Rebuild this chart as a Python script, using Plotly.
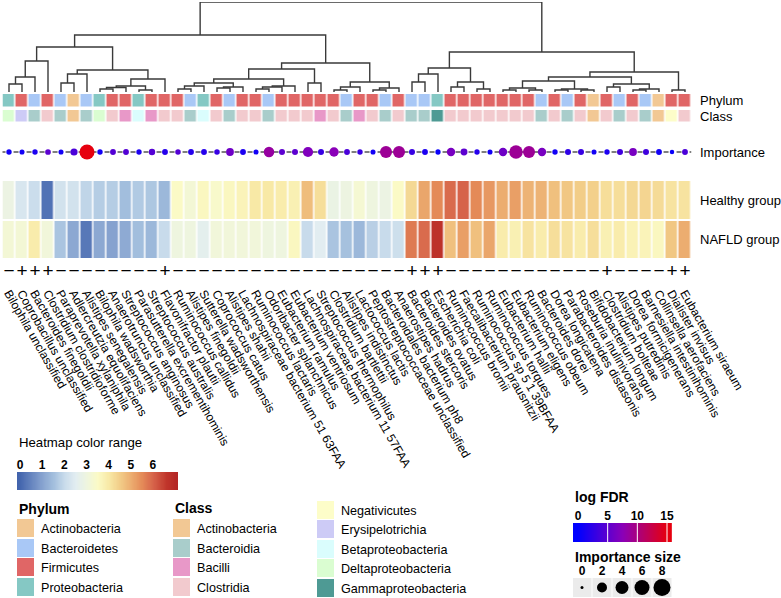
import plotly.graph_objects as go
import numpy as np

W, H = 781, 598
FONT = "Arial, Liberation Sans, Helvetica, sans-serif"

# ---------------- data ----------------
species = [
    "Bilophila unclassified", "Coprobacillus unclassified", "Bacteroides finegoldii",
    "Clostridium clostridioforme", "Paraprevotella xylaniphila", "Adlercreutzia equolifaciens",
    "Alistipes senegalensis", "Bilophila wadsworthia", "Anaerotruncus unclassified",
    "Streptococcus anginosus", "Parasutterella excrementihominis", "Streptococcus australis",
    "Flavonifractor plautii", "Ruminococcus callidus", "Alistipes finegoldii",
    "Sutterella wadsworthensis", "Coprococcus catus", "Alistipes shahii",
    "Lachnospiraceae bacterium 51 63FAA", "Ruminococcus lactaris", "Odoribacter splanchnicus",
    "Eubacterium ramulus", "Eubacterium ventriosum", "Lachnospiraceae bacterium 11 57FAA",
    "Streptococcus thermophilus", "Clostridium bartlettii", "Alistipes indistinctus",
    "Lactococcus lactis", "Peptostreptococcaceae unclassified", "Bacteroidales bacterium ph8",
    "Anaerostipes hadrus", "Bacteroides stercoris", "Bacteroides ovatus", "Escherichia coli",
    "Ruminococcus bromii", "Faecalibacterium prausnitzii", "Ruminococcus sp 5 1 39BFAA",
    "Ruminococcus torques", "Eubacterium hallii", "Eubacterium eligens", "Ruminococcus obeum",
    "Bacteroides dorei", "Dorea longicatena", "Parabacteroides distasonis",
    "Roseburia inulinivorans", "Bifidobacterium longum", "Clostridium bolteae",
    "Alistipes putredinis", "Dorea formicigenerans", "Barnesiella intestinihominis",
    "Collinsella aerofaciens", "Dialister invisus", "Eubacterium siraeum",
]

A, B, F, P = "Actinobacteria", "Bacteroidetes", "Firmicutes", "Proteobacteria"
phylum = [P, F, B, F, B, A, B, P, F, F,
          P, F, F, F, B, P, F, B, F, F,
          B, F, F, F, F, F, B, F, F, B,
          F, B, B, P, F, F, F, F, F, F,
          F, B, F, B, F, A, F, B, F, B,
          A, F, F]

cA, cBd, cBc, cCl, cNe, cEr, cBe, cDe, cGa = (
    "Actinobacteria", "Bacteroidia", "Bacilli", "Clostridia", "Negativicutes",
    "Erysipelotrichia", "Betaproteobacteria", "Deltaproteobacteria", "Gammaproteobacteria")
klass = [cDe, cEr, cBd, cCl, cBd, cA, cBd, cDe, cCl, cBc,
         cBe, cBc, cCl, cCl, cBd, cBe, cCl, cBd, cCl, cCl,
         cBd, cCl, cCl, cCl, cBc, cCl, cBd, cBc, cCl, cBd,
         cCl, cBd, cBd, cGa, cCl, cCl, cCl, cCl, cCl, cCl,
         cCl, cBd, cCl, cBd, cCl, cA, cCl, cBd, cCl, cBd,
         cA, cNe, cCl]

healthy = [2.9, 2.3, 2.05, 0.2, 2.2, 2.2, 1.9, 1.75, 1.75, 1.5,
           1.7, 1.65, 1.4, 3.5, 3.2, 3.6, 3.4, 3.6, 3.7, 4.0,
           4.0, 3.9, 3.8, 4.75, 4.2, 2.85, 2.95, 3.25, 3.0, 2.9,
           3.5, 4.3, 5.1, 5.5, 5.9, 6.0, 5.5, 5.3, 5.0, 5.2,
           4.9, 4.9, 4.7, 4.6, 4.5, 4.45, 4.2, 4.2, 4.3, 4.35,
           4.25, 4.1, 4.1]
nafld = [3.2, 3.2, 3.9, 3.1, 1.6, 1.1, 0.3, 1.1, 1.0, 1.15,
         1.5, 1.4, 2.0, 3.0, 3.0, 2.6, 3.1, 3.1, 3.1, 3.1,
         3.0, 3.0, 3.6, 2.0, 2.5, 1.6, 1.55, 1.4, 1.8, 2.0,
         2.1, 5.7, 5.9, 6.7, 4.7, 5.2, 4.7, 5.1, 3.9, 3.8,
         4.1, 3.9, 4.2, 4.1, 3.9, 4.2, 3.8, 3.9, 3.75, 3.7,
         3.6, 4.6, 5.0]

log_fdr = [1.0, 1.0, 1.5, 5.0, 1.0, 4.0, 15.0, 1.0, 4.5, 4.5,
           1.5, 4.5, 2.0, 4.5, 2.0, 2.0, 3.0, 6.0, 1.5, 1.0,
           8.5, 5.0, 5.0, 7.0, 3.0, 7.5, 4.0, 3.0, 1.0, 9.0,
           9.0, 3.0, 1.5, 0.5, 6.5, 5.0, 2.0, 1.0, 6.0, 9.0,
           9.0, 6.5, 1.0, 2.5, 3.0, 1.0, 1.5, 3.5, 6.5, 3.5,
           1.0, 0.5, 4.0]
importance = [1.6, 1.4, 1.6, 1.8, 1.4, 2.8, 8.0, 1.6, 1.9, 1.9,
              1.6, 2.3, 1.9, 1.7, 1.9, 1.9, 1.7, 3.2, 1.9, 1.4,
              5.0, 2.0, 2.0, 4.8, 2.0, 4.3, 1.9, 1.6, 1.4, 6.0,
              6.0, 2.0, 1.9, 1.5, 3.6, 2.6, 1.6, 1.4, 3.6, 7.0,
              6.0, 3.6, 1.6, 2.0, 2.0, 1.4, 1.6, 2.0, 3.2, 2.0,
              1.9, 1.0, 1.9]

direction = ["−", "+", "+", "+", "−", "−", "−", "−", "−", "−",
             "−", "−", "+", "−", "−", "−", "−", "−", "−", "−",
             "−", "−", "−", "−", "−", "−", "−", "−", "−", "−",
             "−", "+", "+", "+", "−", "−", "−", "−", "−", "−",
             "−", "−", "−", "−", "−", "−", "+", "−", "−", "−",
             "−", "+", "+"]

# hierarchical clustering tree: [left, right, merge height]; leaves = column numbers
tree = [
    [
        [
            [[[1, 2, 0.8], 3, 1.5], 4, 3.1],
            [[[5, 6, 0.9], 7, 1.8],
             [[[[8, 9, 0.3], 10, 0.45], [11, 12, 0.2], 0.6], 13, 1.3], 2.2],
            4.5],
        [
            [[[[[14, 15, 0.3], 16, 0.6], [[17, 18, 0.4], 19, 0.5], 0.9],
              [[[20, 21, 0.3], 22, 0.5], 23, 0.6], 1.3],
             [24, 25, 0.9], 2.3],
            [[[26, 27, 0.2], 28, 0.5], [[29, 30, 0.2], 31, 0.4], 1.0],
            2.9],
        5.7],
    [
        [[[32, 33, 1.0], 34, 1.8], [[35, 36, 0.5], [37, 38, 0.3], 1.0], 2.4],
        [[[[[39, 40, 0.2], [41, 42, 0.2], 0.4], [[43, 44, 0.2], [45, 46, 0.2], 0.3], 1.1],
          [[47, 48, 0.5], [[49, 50, 0.2], 51, 0.3], 0.8], 1.5],
         [52, 53, 0.2], 2.0],
        4.0],
    9.0]

phylum_names = [A, B, F, P]
phylum_colors = ["#f2c894", "#a9c8f6", "#e06666", "#85c8c4"]
class_names = [cA, cBd, cBc, cCl, cNe, cEr, cBe, cDe, cGa]
class_colors = ["#f2c894", "#a9cdcb", "#e898c8", "#f2cace", "#fdfdc9",
                "#cdcbf6", "#dafdfd", "#dafdd1", "#4e9a94"]

heat_ticks = [0, 1, 2, 3, 4, 5, 6]
fdr_ticks = [0, 5, 10, 15]
size_ticks = [0, 2, 4, 6, 8]
size_legend_px = [3, 10, 13, 15, 17]

# ---------------- helpers ----------------
def ydom(top, bottom):
    return [1 - bottom / H, 1 - top / H]

def xdom(left, right):
    return [left / W, right / W]

def px(x):
    return x / W

def py(y):
    return 1 - y / H

ZMIN, ZMAX = -0.135, 7.13
heat_stops = [(ZMIN, "#4262ab"), (0.0, "#4466ae"), (1.0, "#86a2cf"), (1.5, "#a2bedd"),
              (2.0, "#c8dbeb"), (2.5, "#e2edf1"), (3.0, "#eef5df"), (3.5, "#fbfac6"),
              (4.0, "#f8e9a6"), (4.5, "#f2cd88"), (5.0, "#ecad70"), (5.5, "#e48a58"),
              (6.0, "#d6634a"), (6.6, "#c0352b"), (ZMAX, "#b22424")]
heat_scale = [[(v - ZMIN) / (ZMAX - ZMIN), c] for v, c in heat_stops]
fdr_scale = [[0, "#0000ff"], [0.5, "#8a00b8"], [1, "#e6000f"]]

cols = list(range(1, len(species) + 1))

fig = go.Figure()

# dendrogram
xs, ys = [], []

def walk(node):
    if isinstance(node, int):
        return float(node), 0.0
    left, right, h = node
    xl, hl = walk(left)
    xr, hr = walk(right)
    xs.extend([xl, xl, xr, xr, None])
    ys.extend([hl, h, h, hr, None])
    return (xl + xr) / 2, h

walk(tree)
fig.add_trace(go.Scatter(x=xs, y=ys, mode="lines", line=dict(color="#3a3a3a", width=1.4),
                         xaxis="x", yaxis="y", hoverinfo="skip", showlegend=False))

# phylum / class annotation rows (one categorical heatmap)
cat_colors = phylum_colors + class_colors
n = len(cat_colors)
cat_scale = []
for i, c in enumerate(cat_colors):
    cat_scale += [[i / n, c], [(i + 1) / n, c]]
z_annot = [[len(phylum_names) + class_names.index(k) for k in klass],
           [phylum_names.index(p) for p in phylum]]
fig.add_trace(go.Heatmap(x=cols, y=[0, 1], z=z_annot, colorscale=cat_scale,
                         zmin=-0.5, zmax=n - 0.5, showscale=False, xgap=1.5, ygap=3.5,
                         xaxis="x", yaxis="y2", hoverinfo="skip"))

# importance row
fig.add_trace(go.Scatter(x=[0.35, 53.5], y=[0.5, 0.5], mode="lines",
                         line=dict(color="black", width=1.1, dash="5px,8px"),
                         xaxis="x", yaxis="y3", hoverinfo="skip", showlegend=False))
fig.add_trace(go.Scatter(x=cols, y=[0.5] * len(cols), mode="markers",
                         marker=dict(size=[3 + 1.5 * v for v in importance], color=log_fdr,
                                     colorscale=fdr_scale, cmin=0, cmax=15,
                                     line=dict(width=0), opacity=1),
                         xaxis="x", yaxis="y3", hoverinfo="skip", showlegend=False))

# main heatmap
fig.add_trace(go.Heatmap(x=cols, y=[0, 1], z=[nafld, healthy], colorscale=heat_scale,
                         zmin=ZMIN, zmax=ZMAX, showscale=False, xgap=1.5, ygap=2,
                         xaxis="x", yaxis="y4", hoverinfo="skip"))

# direction signs
fig.add_trace(go.Scatter(x=cols, y=[0.5] * len(cols), mode="text", text=direction,
                         textfont=dict(size=19, color="#000000", family=FONT),
                         xaxis="x", yaxis="y5", hoverinfo="skip", showlegend=False))

# heatmap color range legend bar
hv = np.linspace(ZMIN, ZMAX, 300)
fig.add_trace(go.Heatmap(x=hv, y=[0], z=[hv], colorscale=heat_scale, zmin=ZMIN, zmax=ZMAX,
                         showscale=False, xaxis="x2", yaxis="y6", hoverinfo="skip"))

# log FDR legend bar
FMIN, FMAX = -0.84, 15.84
fv = np.linspace(FMIN, FMAX, 300)
fig.add_trace(go.Heatmap(x=fv, y=[0], z=[fv], colorscale=fdr_scale, zmin=0, zmax=15,
                         showscale=False, xaxis="x3", yaxis="y7", hoverinfo="skip"))

# importance size legend
fig.add_trace(go.Scatter(x=size_ticks, y=[0.5] * len(size_ticks), mode="markers",
                         marker=dict(symbol="square", size=19, color="#ebebeb", line=dict(width=0)),
                         xaxis="x4", yaxis="y8", hoverinfo="skip", showlegend=False))
fig.add_trace(go.Scatter(x=size_ticks, y=[0.5] * len(size_ticks), mode="markers",
                         marker=dict(size=size_legend_px, color="#000000", opacity=1,
                                     line=dict(width=0)),
                         xaxis="x4", yaxis="y8", hoverinfo="skip", showlegend=False))

hidden = dict(visible=False, fixedrange=True, automargin=False)
legend_x = dict(ticks="", showgrid=False, zeroline=False, showline=False, side="top",
                tickmode="array", automargin=False, fixedrange=True,
                tickfont=dict(size=12, color="black", weight="bold"))
fig.update_layout(
    template="none",
    width=W, height=H, margin=dict(l=0, r=0, t=0, b=0, pad=0, autoexpand=False),
    paper_bgcolor="white", plot_bgcolor="rgba(0,0,0,0)",
    font=dict(family=FONT, color="black"),
    showlegend=False,
    xaxis=dict(domain=xdom(2.5, 691.5), range=[0.5, 53.5], anchor="y5",
               tickmode="array", tickvals=cols, ticktext=species, tickangle=60,
               tickfont=dict(size=12, color="black"), ticks="", showgrid=False,
               zeroline=False, showline=False, automargin=False, fixedrange=True),
    yaxis=dict(domain=ydom(2, 92), range=[0, 9], anchor="x", **hidden),
    yaxis2=dict(domain=ydom(93, 124), range=[-0.5, 1.5], anchor="x", **hidden),
    yaxis3=dict(domain=ydom(140, 164), range=[0, 1], anchor="x", **hidden),
    yaxis4=dict(domain=ydom(180, 259), range=[-0.5, 1.5], anchor="x", **hidden),
    yaxis5=dict(domain=ydom(262, 283), range=[0, 1], anchor="x", **hidden),
    xaxis2=dict(domain=xdom(17, 178), range=[ZMIN, ZMAX], anchor="y6",
                tickvals=heat_ticks, **legend_x),
    yaxis6=dict(domain=ydom(472, 490), range=[-0.5, 0.5], anchor="x2", **hidden),
    xaxis3=dict(domain=xdom(573, 672), range=[FMIN, FMAX], anchor="y7",
                tickvals=fdr_ticks, **legend_x),
    yaxis7=dict(domain=ydom(523, 542), range=[-0.5, 0.5], anchor="x3", **hidden),
    xaxis4=dict(domain=xdom(573, 672), range=[-0.9, 9.0], anchor="y8",
                tickvals=size_ticks, **legend_x),
    yaxis8=dict(domain=ydom(578, 597), range=[0, 1], anchor="x4", **hidden),
)

shapes = []
annotations = []

def label(x, y, text, size=13, bold=False, anchor="left"):
    annotations.append(dict(x=px(x), y=py(y), xref="paper", yref="paper", text=text,
                            showarrow=False, xanchor=anchor, yanchor="middle",
                            font=dict(size=size, color="black", family=FONT,
                                      weight="bold" if bold else "normal")))

# row labels on the right
label(698, 100, "Phylum")
label(698, 117, "Class")
label(698, 152, "Importance")
label(698, 200, "Healthy group")
label(698, 239, "NAFLD group")

# white tick marks in the log FDR bar
for v in fdr_ticks[1:]:
    shapes.append(dict(type="line", xref="x3", yref="y7 domain", x0=v, x1=v, y0=0, y1=1,
                       line=dict(color="white", width=1)))

# legend titles
label(17, 443, "Heatmap color range", size=13.2)
label(17, 509, "Phylum", size=14, bold=True)
label(173, 508, "Class", size=14, bold=True)
label(573, 497, "log FDR", size=14, bold=True)
label(573, 557, "Importance size", size=14, bold=True)

def swatch(x, top, color, text):
    shapes.append(dict(type="rect", xref="paper", yref="paper",
                       x0=px(x), x1=px(x + 17), y0=py(top + 18), y1=py(top),
                       fillcolor=color, line=dict(width=0)))
    label(x + 22, top + 9.5, text, size=12.6)

rows4 = [519, 539, 558, 578]
for i, (nm, c) in enumerate(zip(phylum_names, phylum_colors)):
    swatch(17, rows4[i], c, nm)
for i in range(4):
    swatch(173, rows4[i], class_colors[i], class_names[i])
rows5 = [501, 520, 540, 559, 579]
for i in range(5):
    swatch(317, rows5[i], class_colors[4 + i], class_names[4 + i])

fig.update_layout(shapes=shapes, annotations=annotations)
fig.write_html("out.html", config={"displayModeBar": False},
               post_script="document.body.style.margin='0px';document.body.style.overflow='hidden';")
